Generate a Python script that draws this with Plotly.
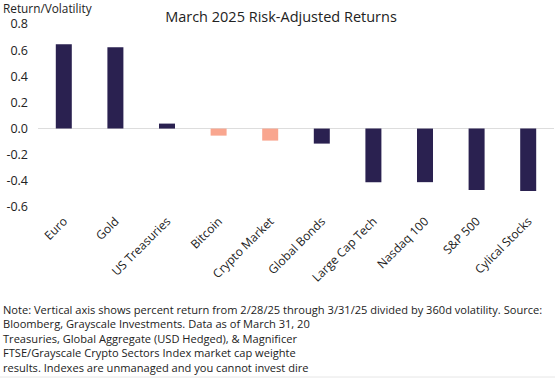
import plotly.graph_objects as go

categories = ["Euro", "Gold", "US Treasuries", "Bitcoin", "Crypto Market",
              "Global Bonds", "Large Cap Tech", "Nasdaq 100", "S&P 500", "Cylical Stocks"]
values = [0.646, 0.623, 0.038, -0.054, -0.092, -0.115, -0.41, -0.41, -0.47, -0.477]
colors = ["#2a2150", "#2a2150", "#2a2150", "#f9a68f", "#f9a68f",
          "#2a2150", "#2a2150", "#2a2150", "#2a2150", "#2a2150"]
y_ticks = [0.8, 0.6, 0.4, 0.2, 0.0, -0.2, -0.4, -0.6]

note_lines = [
    "Note: Vertical axis shows percent return from 2/28/25 through 3/31/25 divided by 360d volatility. Source:",
    "Bloomberg, Grayscale Investments. Data as of March 31, 20",
    "Treasuries, Global Aggregate (USD Hedged), & Magnificer",
    "FTSE/Grayscale Crypto Sectors Index market cap weighte",
    "results. Indexes are unmanaged and you cannot invest dire",
]

FONT = "Open Sans"
W, H = 555, 379
L, R, T, B = 38, 1, 24, 172

fig = go.Figure(go.Bar(
    x=categories, y=values, marker=dict(color=colors, line=dict(width=0)),
    width=0.31, hoverinfo="skip",
))

def px_x(px):
    return (px - L) / (W - L - R)

def px_y(py):
    return (H - B - py) / (H - T - B)

fig.update_layout(
    width=W, height=H,
    margin=dict(l=L, r=R, t=T, b=B, autoexpand=False),
    paper_bgcolor="white", plot_bgcolor="white",
    showlegend=False,
    font=dict(family=FONT, color="#222222"),
    title=dict(text="March 2025 Risk-Adjusted Returns", x=281 / W, xref="container",
               y=1 - 17 / H, yref="container", xanchor="center", yanchor="middle",
               font=dict(size=14.5, family=FONT, color="#222222")),
    xaxis=dict(tickangle=-45, tickfont=dict(size=12, family=FONT, color="#222222"),
               showline=False, showgrid=False, ticks="", ticklen=0, automargin=False,
               ticklabelstandoff=4),
    yaxis=dict(range=[-0.6, 0.8], tickvals=y_ticks,
               ticktext=[f"{v:.1f}" for v in y_ticks],
               tickfont=dict(size=12.5, family=FONT, color="#222222"),
               showgrid=False, zeroline=True, zerolinecolor="#dddddd", zerolinewidth=1,
               showline=False, ticks="", ticklabelstandoff=9, automargin=False),
    bargap=0.69,
)

fig.add_annotation(text="Return/Volatility", xref="paper", yref="paper",
                   x=px_x(2), y=px_y(8), xanchor="left", yanchor="middle",
                   showarrow=False, borderpad=0,
                   font=dict(size=11.8, family=FONT, color="#222222"))

fig.add_annotation(text="<br>".join(note_lines), xref="paper", yref="paper",
                   x=px_x(2), y=px_y(338), xanchor="left", yanchor="middle", align="left",
                   showarrow=False, borderpad=0,
                   font=dict(size=11.1, family=FONT, color="#222222"))

fig.add_shape(type="line", xref="paper", yref="paper", x0=px_x(0), x1=px_x(555),
              y0=px_y(377), y1=px_y(377), line=dict(color="#e6e6e6", width=1))

fig.write_html("out.html", config={"displayModeBar": False, "staticPlot": True},
               post_script="document.body.style.margin='0';document.body.style.overflow='hidden';")
